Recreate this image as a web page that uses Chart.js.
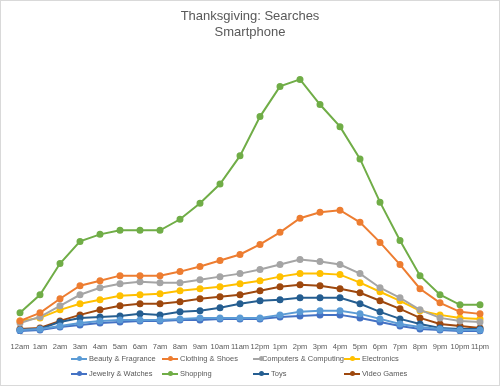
<!DOCTYPE html>
<html>
<head>
<meta charset="utf-8">
<script src="https://cdn.jsdelivr.net/npm/chart.js@4.4.0/dist/chart.umd.min.js"></script>
<style>
  body { margin: 0; background: #fff; }
  #wrap { width: 498px; height: 384px; border: 1px solid #d9d9d9; position: relative; overflow: hidden; }
  canvas { display: block; }
  #legend { position: absolute; left: 70px; top: 350px; display: grid; grid-template-columns: repeat(4, 91px); row-gap: 0; }
  .item { display: flex; align-items: center; height: 15px; font: 7.5px 'Liberation Sans', sans-serif; color: #595959; white-space: nowrap; }
  .mark { position: relative; width: 16px; height: 2px; margin-right: 2px; }
  .mark span { position: absolute; left: 5.5px; top: -1.5px; width: 5px; height: 5px; border-radius: 50%; }
</style>
</head>
<body>
<div id="wrap">
<canvas id="chart1" width="498" height="353"></canvas>
<div id="legend"></div>
</div>
<script>
var hours = ['12am', '1am', '2am', '3am', '4am', '5am', '6am', '7am', '8am', '9am', '10am', '11am',
    '12pm', '1pm', '2pm', '3pm', '4pm', '5pm', '6pm', '7pm', '8pm', '9pm', '10pm', '11pm'];

var beauty = [4, 5, 8, 11, 13, 14, 14, 14, 15, 16, 16, 16, 16, 19, 22, 23, 23, 20, 15, 10, 7, 5, 4, 4];
var clothing = [13, 21, 35, 48, 53, 58, 58, 58, 62, 67, 73, 79, 89, 101, 115, 121, 123, 111, 91, 69, 45, 31, 22, 20];
var computers = [11, 17, 28, 39, 46, 50, 52, 51, 51, 54, 57, 60, 64, 69, 74, 72, 69, 60, 46, 36, 24, 16, 13, 12];
var electronics = [13, 16, 24, 30, 34, 38, 39, 40, 43, 45, 47, 50, 53, 57, 60, 60, 59, 51, 42, 33, 23, 19, 16, 15];
var jewelry = [3, 4, 7, 9, 11, 12, 13, 13, 14, 14, 15, 15, 15, 17, 18, 19, 19, 16, 12, 8, 5, 4, 3, 3];
var shopping = [21, 39, 70, 92, 99, 103, 103, 103, 114, 130, 149, 177, 216, 246, 253, 228, 206, 174, 131, 93, 58, 39, 29, 29];
var toys = [4, 5, 12, 16, 17, 18, 20, 19, 22, 23, 26, 30, 33, 34, 36, 36, 36, 30, 22, 15, 10, 6, 5, 5];
var videoGames = [5, 6, 13, 19, 24, 28, 30, 30, 32, 35, 37, 39, 43, 47, 49, 48, 45, 41, 33, 25, 16, 10, 8, 6];

function series(label, data, color) {
    return {
        label: label,
        data: data,
        borderColor: color,
        backgroundColor: color,
        borderWidth: 2,
        pointRadius: 2.5,
        pointHoverRadius: 3,
        tension: 0
    };
}

// legend laid out as a 4-column grid like the original
var htmlLegend = {
    id: 'htmlLegend',
    afterUpdate: function(chart) {
        var box = document.getElementById('legend');
        box.innerHTML = '';
        chart.data.datasets.forEach(function(ds) {
            var item = document.createElement('div');
            item.className = 'item';
            var mark = document.createElement('div');
            mark.className = 'mark';
            mark.style.background = ds.borderColor;
            var dot = document.createElement('span');
            dot.style.background = ds.borderColor;
            mark.appendChild(dot);
            item.appendChild(mark);
            item.appendChild(document.createTextNode(ds.label));
            box.appendChild(item);
        });
    }
};

var ctx1 = document.getElementById('chart1').getContext('2d');
new Chart(ctx1, {
    type: 'line',
    plugins: [htmlLegend],
    data: {
        labels: hours,
        datasets: [
            series('Beauty & Fragrance', beauty, '#5B9BD5'),
            series('Clothing & Shoes', clothing, '#ED7D31'),
            series('Computers & Computing', computers, '#A5A5A5'),
            series('Electronics', electronics, '#FFC000'),
            series('Jewelry & Watches', jewelry, '#4472C4'),
            series('Shopping', shopping, '#70AD47'),
            series('Toys', toys, '#255E91'),
            series('Video Games', videoGames, '#9E480E')
        ]
    },
    options: {
        responsive: false,
        animation: false,
        layout: { padding: { left: 19, right: 19, bottom: 3 } },
        scales: {
            x: {
                grid: { display: false },
                border: { color: '#d9d9d9' },
                ticks: { color: '#595959', font: { family: 'Liberation Sans', size: 7.5 }, maxRotation: 0, autoSkip: false, padding: 0 }
            },
            y: { display: false, min: 0, max: 282 }
        },
        plugins: {
            title: {
                display: true,
                text: ['Thanksgiving: Searches', 'Smartphone'],
                color: '#595959',
                font: { family: 'Liberation Sans', size: 13, weight: 'normal' },
                padding: { top: 8, bottom: 10 }
            },
            legend: { display: false },
            tooltip: { enabled: false }
        }
    }
});
</script>
</body>
</html>
